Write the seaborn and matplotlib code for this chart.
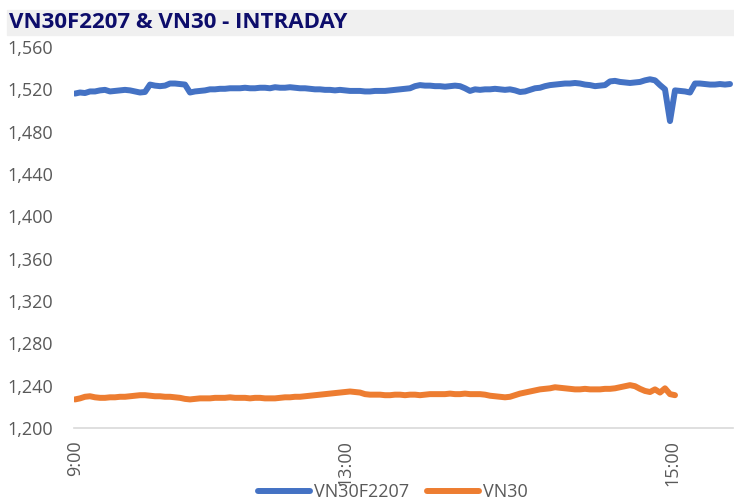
import pandas as pd
import seaborn as sns
import matplotlib.pyplot as plt
from matplotlib.patches import Rectangle
from matplotlib.ticker import FuncFormatter


# intraday prices, one reading per step along the category axis
vn30f2207 = [
    1516, 1517, 1516.5, 1518, 1518, 1519, 1519.5, 1518, 1518.5, 1519,
    1519.5, 1519, 1518, 1517, 1517.5, 1524.5, 1523.5, 1523, 1523.5, 1525.5,
    1525.5, 1525, 1524.5, 1517, 1518, 1518.5, 1519, 1520, 1520, 1520.5,
    1520.5, 1521, 1521, 1521, 1521.5, 1521, 1521, 1521.5, 1521.5, 1521,
    1522, 1521.5, 1521.5, 1522, 1521.5, 1521, 1521, 1520.5, 1520, 1520,
    1519.5, 1519.5, 1519, 1519.5, 1519, 1518.5, 1518.5, 1518.5, 1518, 1518,
    1518.5, 1518.5, 1518.5, 1519, 1519.5, 1520, 1520.5, 1521, 1523, 1524,
    1523.5, 1523.5, 1523, 1523, 1522.5, 1523, 1523.5, 1523, 1521, 1518.5,
    1520, 1519.5, 1520, 1520, 1520.5, 1520, 1519.5, 1520, 1519, 1517.5,
    1518, 1519.5, 1521, 1521.5, 1523, 1524, 1524.5, 1525, 1525.5, 1525.5,
    1526, 1525.5, 1524.5, 1524, 1523, 1523.5, 1524, 1527.5, 1528, 1527,
    1526.5, 1526, 1526.5, 1527, 1528.5, 1529.5, 1528.5, 1524, 1520, 1490,
    1519, 1518.5, 1518, 1517, 1525.5, 1525.5, 1525, 1524.5, 1524.5, 1525,
    1524.5, 1525,
]
vn30 = [
    1227, 1228, 1229.5, 1230, 1229, 1228.5, 1228.5, 1229, 1229, 1229.5,
    1229.5, 1230, 1230.5, 1231, 1231, 1230.5, 1230, 1230, 1229.5, 1229.5,
    1229, 1228.5, 1227.5, 1227, 1227.5, 1228, 1228, 1228, 1228.5, 1228.5,
    1228.5, 1229, 1228.5, 1228.5, 1228.5, 1228, 1228.5, 1228.5, 1228, 1228,
    1228, 1228.5, 1229, 1229, 1229.5, 1229.5, 1230, 1230.5, 1231, 1231.5,
    1232, 1232.5, 1233, 1233.5, 1234, 1234.5, 1234, 1233.5, 1232, 1231.5,
    1231.5, 1231.5, 1231, 1231, 1231.5, 1231.5, 1231, 1231.5, 1231.5, 1231,
    1231.5, 1232, 1232, 1232, 1232, 1232.5, 1232, 1232, 1232.5, 1232,
    1232, 1232, 1231.5, 1230.5, 1230, 1229.5, 1229, 1229.5, 1231, 1232.5,
    1233.5, 1234.5, 1235.5, 1236.5, 1237, 1237.5, 1238.5, 1238, 1237.5, 1237,
    1236.5, 1236.5, 1237, 1236.5, 1236.5, 1236.5, 1237, 1237, 1237.5, 1238.5,
    1239.5, 1240.5, 1239.5, 1237, 1235, 1234, 1236.5, 1233.5, 1237.5, 1232,
    1231,
]
series_names = ['VN30F2207', 'VN30']
time_ticks = [0, 54, 119.4]
time_labels = ['9:00', '13:00', '15:00']
y_ticks = list(range(1200, 1561, 40))

df = pd.concat([
    pd.DataFrame({'step': range(len(vn30f2207)), 'price': vn30f2207, 'series': series_names[0]}),
    pd.DataFrame({'step': range(len(vn30)), 'price': vn30, 'series': series_names[1]}),
], ignore_index=True)

sns.set_style('white')
plt.rcParams['font.family'] = ['Open Sans', 'DejaVu Sans']

W, H = 734, 503
fig = plt.figure(figsize=(W / 100, H / 100), dpi=100)
ax = fig.add_axes([74 / W, 1 - 428 / H, (733 - 74) / W, (428 - 47) / H])

# title band
fig.add_artist(Rectangle((7 / W, 1 - 35 / H), (W - 7) / W, 25 / H,
                         transform=fig.transFigure, color='#f0f0f0', zorder=0))
fig.text(9 / W, 1 - 22.5 / H, 'VN30F2207 & VN30 - INTRADAY', fontsize=16,
         fontweight='bold', color='#0d0d6b', va='center', ha='left')

sns.lineplot(data=df, x='step', y='price', hue='series', hue_order=series_names,
             palette={'VN30F2207': '#4472c4', 'VN30': '#ed7d31'},
             linewidth=4.3, ax=ax)

ax.set_xlim(-0.2, 131.6)
ax.set_ylim(1200, 1560)
ax.set_yticks(y_ticks)
ax.yaxis.set_major_formatter(FuncFormatter(lambda v, _: f'{v:,.0f}'))
ax.set_xticks(time_ticks)
ax.set_xticklabels(time_labels, rotation=90)
ax.set_xlabel('')
ax.set_ylabel('')
for s in ['top', 'right', 'left']:
    ax.spines[s].set_visible(False)
ax.spines['bottom'].set_color('#d9d9d9')
ax.spines['bottom'].set_linewidth(1.2)
ax.tick_params(axis='both', length=0, labelsize=13, colors='#595959')
ax.tick_params(axis='y', pad=15)
ax.tick_params(axis='x', pad=9)

sns.move_legend(ax, 'center', bbox_to_anchor=(0.535, 1 - 492 / H),
                bbox_transform=fig.transFigure, ncol=2, frameon=False, title=None,
                fontsize=13, handlelength=2.9, handletextpad=0.2, columnspacing=1.0)
leg = ax.get_legend()
for t in leg.get_texts():
    t.set_color('#595959')
for h in leg.legend_handles:
    h.set_linewidth(4.3)

plt.savefig('out.png', dpi=100)
plt.close()
